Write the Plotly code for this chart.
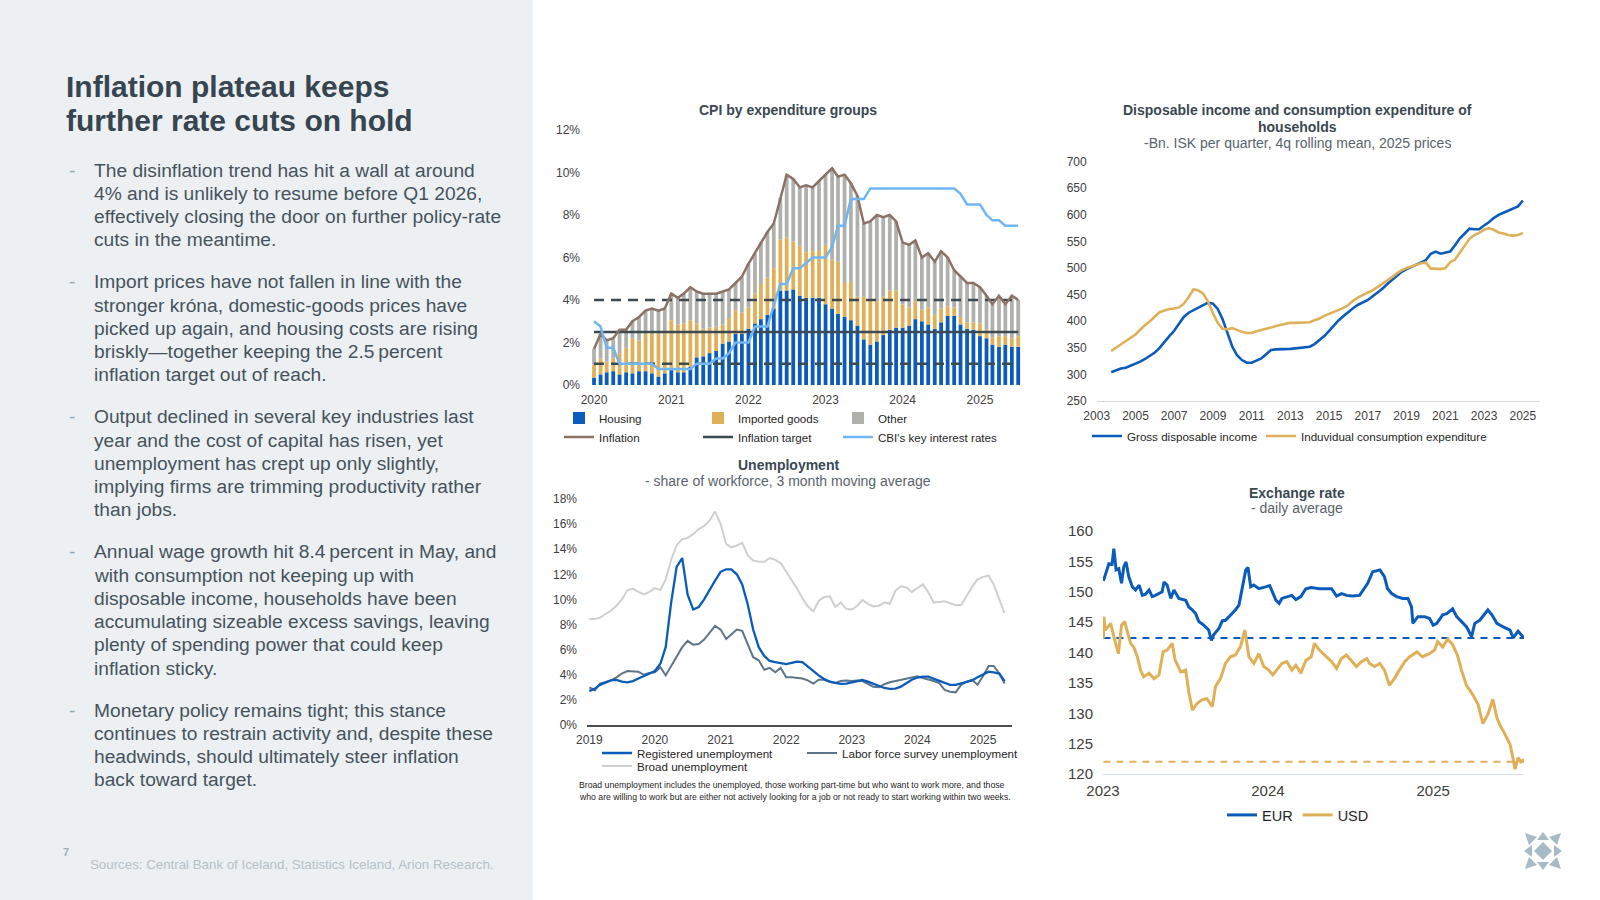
import plotly.graph_objects as go
import pandas as pd

W, H = 1600, 900
FONT = "Liberation Sans, Arial, Helvetica, sans-serif"


def fx(p):
    return p / W


def fy(p):
    return 1 - p / H


# ---------------- CPI by expenditure groups (monthly, % y/y) ----------------
cpi_months = pd.date_range("2020-01-01", periods=67, freq="MS")
cpi_housing = [0.35, 0.5, 0.6, 0.65, 0.5, 0.6, 0.55, 0.65, 0.65, 0.55, 0.4, 0.55,
               0.7, 0.6, 0.6, 0.85, 1.3, 1.35, 1.5, 1.6, 1.95, 2.05, 2.4, 2.4,
               2.65, 2.9, 3.1, 3.3, 3.6, 4.45, 4.45, 4.5, 4.2, 4.1, 4.1, 4.1,
               3.8, 3.6, 3.35, 3.2, 3.05, 2.8, 2.15, 1.9, 2.05, 2.35, 2.6, 2.7,
               2.7, 2.8, 3.1, 3.0, 2.85, 2.65, 2.95, 3.25, 3.25, 2.85, 2.65, 2.6,
               2.3, 2.2, 1.9, 1.8, 1.9, 1.8, 1.8]
cpi_imported = [0.6, 0.75, 0.5, 0.6, 1.0, 1.15, 1.65, 1.45, 1.75, 1.9, 2.0, 1.9,
                2.35, 2.25, 2.3, 2.2, 1.6, 1.3, 1.2, 1.15, 0.9, 1.1, 1.1, 1.0,
                1.0, 1.4, 1.65, 1.75, 1.9, 2.4, 2.5, 2.25, 2.35, 2.15, 2.2, 2.25,
                2.8, 2.3, 2.45, 1.6, 1.8, 1.35, 2.0, 2.1, 1.9, 1.8, 1.85, 1.75,
                1.1, 0.85, 0.85, 0.55, 0.8, 0.65, 0.65, 0.45, 0.4, 0.35, 0.3, 0.35,
                0.6, 0.4, 0.35, 0.5, 0.4, 0.4, 0.5]
cpi_other = [0.75, 1.15, 1.0, 0.95, 1.1, 0.85, 0.8, 1.1, 1.1, 1.15, 1.1, 1.15,
             1.25, 1.25, 1.4, 1.55, 1.5, 1.65, 1.6, 1.55, 1.55, 1.35, 1.3, 1.7,
             2.05, 1.9, 1.95, 2.15, 2.1, 1.95, 2.95, 2.95, 2.75, 3.15, 3.0, 3.25,
             3.3, 4.3, 4.0, 5.1, 4.65, 4.75, 3.45, 3.7, 4.05, 3.75, 3.55, 3.25,
             2.9, 2.95, 2.85, 2.45, 2.55, 2.5, 2.7, 2.3, 1.75, 1.9, 1.85, 1.85,
             1.7, 1.6, 1.55, 1.9, 1.5, 2.0, 1.7]
cpi_inflation = [1.7, 2.4, 2.1, 2.2, 2.6, 2.6, 3.0, 3.2, 3.5, 3.6, 3.5, 3.6,
                 4.3, 4.1, 4.3, 4.6, 4.4, 4.3, 4.3, 4.3, 4.4, 4.5, 4.8, 5.1,
                 5.7, 6.2, 6.7, 7.2, 7.6, 8.8, 9.9, 9.7, 9.3, 9.4, 9.3, 9.6,
                 9.9, 10.2, 9.8, 9.9, 9.5, 8.9, 7.6, 7.7, 8.0, 7.9, 8.0, 7.7,
                 6.7, 6.6, 6.8, 6.0, 6.2, 5.8, 6.3, 6.0, 5.4, 5.1, 4.8, 4.8,
                 4.6, 4.2, 3.8, 4.2, 3.8, 4.2, 4.0]
cbi_key_rate = [3.0, 2.75, 1.75, 1.75, 1.0, 1.0, 1.0, 1.0, 1.0, 1.0, 0.75, 0.75,
                0.75, 0.75, 0.75, 0.75, 1.0, 1.0, 1.0, 1.25, 1.25, 1.5, 2.0, 2.0,
                2.0, 2.75, 2.75, 2.75, 3.75, 4.75, 4.75, 5.5, 5.5, 5.75, 6.0, 6.0,
                6.0, 6.5, 7.5, 7.5, 8.75, 8.75, 8.75, 9.25, 9.25, 9.25, 9.25, 9.25,
                9.25, 9.25, 9.25, 9.25, 9.25, 9.25, 9.25, 9.25, 9.25, 9.0, 8.5, 8.5,
                8.5, 8.0, 7.75, 7.75, 7.5, 7.5, 7.5]
inflation_target = [2.5, 2.5]
tolerance_upper = [4.0, 4.0]
tolerance_lower = [1.0, 1.0]
cpi_ticks = [0, 2, 4, 6, 8, 10, 12]

# ---------------- Disposable income vs consumption (quarterly, bn ISK) ----------------
dis_quarters = pd.date_range("2003-10-01", periods=86, freq="QS")
gross_disposable_income = [
    304,
    308, 311, 312.5, 316,
    320, 324, 329, 335,
    341, 350, 362, 372,
    382, 394, 408, 416,
    421, 426, 430, 435,
    433, 423, 404, 376,
    352, 336, 327, 322,
    322, 326, 330, 338,
    346, 347, 347, 347.5,
    348, 349, 350, 351,
    352, 357, 364, 372,
    382, 392, 402, 410,
    418, 425, 431, 436,
    440, 447, 454, 461,
    470, 478, 486, 493,
    498, 502, 506, 510,
    515, 527, 531, 527,
    529, 531, 543, 556,
    565, 574, 573, 573,
    580, 586, 594, 600,
    604, 608, 611, 616,
    627]
consumption_expenditure = [
    344,
    350, 356, 362, 369,
    375, 384, 393, 400,
    409, 417, 420, 423,
    424, 426, 433, 445,
    460, 458, 452, 437,
    415, 397, 386, 385,
    387, 383, 380, 378,
    378, 381, 383, 386,
    388, 391, 393, 395,
    397, 397, 397, 398,
    398, 402, 405, 410,
    414, 418, 421, 425,
    431, 439, 445, 450,
    454, 458, 464, 470,
    476, 483, 490, 496,
    500, 503, 507, 509,
    510, 499, 499, 498,
    500, 511, 516, 529,
    542, 555, 562, 566,
    572, 575, 572, 567,
    565, 562, 561, 562,
    566]
dis_ticks = [250, 300, 350, 400, 450, 500, 550, 600, 650, 700]
dis_tick_years = [2003, 2005, 2007, 2009, 2011, 2013, 2015, 2017, 2019, 2021, 2023, 2025]

# ---------------- Unemployment (monthly, % of workforce) ----------------
une_months = pd.date_range("2019-01-01", periods=77, freq="MS")
registered_unemployment = [
    2.7, 2.9, 3.2, 3.4, 3.55, 3.6, 3.45, 3.4, 3.5, 3.7, 3.9, 4.1,
    4.3, 4.9, 6.2, 9.8, 12.6, 13.3, 10.4, 9.2, 9.4, 10.0, 10.8, 11.5,
    12.2, 12.4, 12.4, 12.0, 11.2, 9.6, 7.6, 6.2, 5.5, 5.1, 5.0, 4.9,
    4.85, 4.95, 5.05, 5.0, 4.65, 4.25, 3.95, 3.65, 3.45, 3.35, 3.27, 3.3,
    3.4, 3.5, 3.58, 3.45, 3.3, 3.1, 2.95, 2.88, 2.9, 3.05, 3.3, 3.6,
    3.78, 3.85, 3.85, 3.7, 3.55, 3.35, 3.2, 3.2, 3.3, 3.4, 3.55, 3.8,
    4.05, 4.25, 4.2, 4.1, 3.5]
lfs_unemployment = [
    3.0, 2.75, 3.3, 3.4, 3.55, 3.8, 4.1, 4.3, 4.3, 4.25, 4.0, 4.15,
    4.2, 4.6, 3.95, 4.7, 5.5, 6.2, 6.7, 6.4, 6.45, 6.8, 7.35, 7.9,
    7.6, 6.85, 7.2, 7.6, 7.5, 6.4, 5.4, 5.15, 4.4, 4.55, 4.2, 4.55,
    3.8, 3.8, 3.75, 3.7, 3.55, 3.3, 3.6, 3.6, 3.45, 3.35, 3.5, 3.55,
    3.5, 3.55, 3.5, 3.3, 3.05, 3.0, 3.25, 3.4, 3.5, 3.55, 3.65, 3.8,
    3.88, 3.75, 3.6, 3.5, 3.35, 2.8, 2.65, 2.6, 3.2, 3.45, 3.6, 3.2,
    3.9, 4.7, 4.7, 4.1, 3.3]
broad_unemployment = [
    8.45, 8.45, 8.55, 8.8, 9.1, 9.5, 10.0, 10.75, 10.85, 10.6, 10.4, 10.6,
    10.9, 10.75, 11.6, 13.2, 14.3, 14.8, 14.9, 15.2, 15.6, 15.85, 16.3, 17.0,
    16.0, 14.4, 14.15, 14.3, 14.5, 13.5, 13.1, 13.0, 13.0, 13.3, 13.15, 12.9,
    12.2, 11.6, 10.9, 10.1, 9.45, 9.05, 9.9, 10.2, 10.25, 9.4, 9.75, 9.25,
    9.2, 9.5, 9.95, 9.65, 9.45, 9.5, 9.75, 9.65, 10.7, 11.05, 10.95, 10.6,
    10.9, 11.2, 10.6, 9.75, 9.8, 9.85, 9.7, 9.55, 9.55, 10.3, 11.0, 11.6,
    11.8, 11.9, 11.2, 10.0, 8.9]
une_ticks = [0, 2, 4, 6, 8, 10, 12, 14, 16, 18]

# ---------------- Exchange rate (ISK per EUR / USD) ----------------
eur_dates = ["2023-01-02", "2023-01-09", "2023-01-14", "2023-01-21", "2023-01-25", "2023-01-30",
             "2023-02-05", "2023-02-11", "2023-02-16", "2023-02-21", "2023-02-27", "2023-03-07",
             "2023-03-14", "2023-03-22", "2023-03-29", "2023-04-05", "2023-04-13", "2023-04-20",
             "2023-04-27", "2023-05-12", "2023-05-16", "2023-05-23", "2023-05-31", "2023-06-07",
             "2023-06-18", "2023-07-03", "2023-07-10", "2023-07-18", "2023-07-25", "2023-08-01",
             "2023-08-12", "2023-08-23", "2023-08-29", "2023-09-03", "2023-09-15", "2023-09-22",
             "2023-09-29", "2023-10-07", "2023-10-14", "2023-10-21", "2023-10-29", "2023-11-05",
             "2023-11-13", "2023-11-18", "2023-11-24", "2023-12-01", "2023-12-12", "2023-12-27",
             "2024-01-05", "2024-01-19", "2024-01-26", "2024-02-01", "2024-02-12", "2024-02-23",
             "2024-03-03", "2024-03-14", "2024-03-25", "2024-04-06", "2024-04-24", "2024-05-10",
             "2024-05-21", "2024-06-01", "2024-06-12", "2024-06-23", "2024-07-06", "2024-07-22",
             "2024-08-02", "2024-08-09", "2024-08-20", "2024-09-05", "2024-09-15", "2024-09-22",
             "2024-10-01", "2024-10-12", "2024-10-25", "2024-11-06", "2024-11-14", "2024-11-17",
             "2024-11-28", "2024-12-13", "2024-12-24", "2025-01-01", "2025-01-09", "2025-01-22",
             "2025-01-31", "2025-02-13", "2025-02-22", "2025-03-05", "2025-03-16", "2025-03-27",
             "2025-04-03", "2025-04-14", "2025-05-02", "2025-05-11", "2025-05-22", "2025-06-05",
             "2025-06-20", "2025-06-27", "2025-07-08", "2025-07-21"]
eur_values = [151.8, 153.6, 154.6, 154.5, 157.1, 153.6,
              153.8, 151.4, 154.1, 154.9, 152.5, 150.8,
              150.3, 151.1, 149.4, 149.6, 150.3, 149.2,
              149.4, 150.0, 151.6, 151.1, 148.9, 150.3,
              148.9, 148.6, 147.5, 147.0, 146.4, 145.1,
              144.5, 143.7, 142.0, 142.9, 144.0, 145.2,
              145.3, 145.9, 146.4, 147.0, 147.8, 150.3,
              153.6, 154.0, 150.8, 151.1, 150.5, 150.8,
              151.0, 148.6, 148.1, 148.9, 149.2, 149.4,
              148.7, 149.2, 150.5, 150.7, 150.5, 150.5,
              150.5, 149.3, 149.7, 149.4, 149.3, 149.4,
              150.5, 151.4, 153.3, 153.6, 152.5, 150.5,
              149.7, 149.2, 148.9, 148.9, 147.5, 144.8,
              145.9, 145.9, 145.6, 144.5, 144.8, 146.2,
              146.4, 147.2, 145.9, 145.1, 144.2, 142.6,
              144.8, 145.3, 147.0, 146.2, 144.8, 144.2,
              143.7, 142.4, 143.5, 142.4]
usd_dates = ["2023-01-02", "2023-01-03", "2023-01-06", "2023-01-18", "2023-01-25", "2023-02-04",
             "2023-02-11", "2023-02-18", "2023-02-23", "2023-03-03", "2023-03-10", "2023-03-18",
             "2023-03-25", "2023-04-01", "2023-04-13", "2023-04-24", "2023-05-05", "2023-05-14",
             "2023-05-23", "2023-06-03", "2023-06-10", "2023-06-22", "2023-07-03", "2023-07-10",
             "2023-07-18", "2023-07-28", "2023-08-08", "2023-08-19", "2023-08-31", "2023-09-07",
             "2023-09-18", "2023-09-29", "2023-10-10", "2023-10-21", "2023-11-01", "2023-11-11",
             "2023-11-20", "2023-12-01", "2023-12-12", "2023-12-23", "2024-01-03", "2024-01-12",
             "2024-02-01", "2024-02-12", "2024-02-23", "2024-03-03", "2024-03-14", "2024-03-25",
             "2024-04-06", "2024-04-13", "2024-04-24", "2024-05-10", "2024-05-21", "2024-06-01",
             "2024-06-12", "2024-06-23", "2024-07-04", "2024-07-15", "2024-07-26", "2024-08-07",
             "2024-08-13", "2024-08-24", "2024-09-05", "2024-09-15", "2024-09-26", "2024-10-07",
             "2024-10-18", "2024-10-30", "2024-11-10", "2024-11-26", "2024-12-08", "2024-12-24",
             "2025-01-04", "2025-01-11", "2025-01-22", "2025-02-02", "2025-02-13", "2025-02-24",
             "2025-03-05", "2025-03-16", "2025-03-23", "2025-03-30", "2025-04-10", "2025-04-21",
             "2025-05-02", "2025-05-13", "2025-05-22", "2025-05-29", "2025-06-05", "2025-06-20",
             "2025-06-27", "2025-07-01", "2025-07-08", "2025-07-14", "2025-07-21"]
usd_values = [142.3, 145.9, 143.7, 144.8, 142.6, 139.8,
              144.5, 145.1, 143.7, 141.5, 140.9, 139.3,
              137.1, 136.0, 136.6, 135.7, 136.3, 140.1,
              140.4, 141.5, 138.7, 136.8, 137.1, 133.5,
              130.5, 131.6, 132.2, 132.4, 131.1, 134.4,
              135.7, 138.2, 139.3, 139.6, 140.9, 143.7,
              139.3, 138.2, 139.8, 137.7, 137.1, 136.3,
              138.2, 138.5, 137.1, 137.9, 136.6, 138.7,
              139.3, 141.5, 140.4, 139.3, 138.5, 137.4,
              139.0, 139.6, 138.7, 137.7, 138.5, 139.0,
              138.2, 137.7, 138.2, 137.1, 134.6, 135.7,
              137.1, 138.5, 139.3, 140.1, 139.3, 139.8,
              140.4, 141.8, 140.9, 142.2, 141.3, 139.5,
              137.0, 134.5, 133.8, 133.0, 131.5, 128.3,
              129.8, 132.3, 129.3, 128.0, 127.1, 124.9,
              122.5, 120.8, 122.7, 122.0, 122.4]
eur_reference = [142.4, 142.4]
usd_reference = [122.0, 122.0]
fx_ticks = [120, 125, 130, 135, 140, 145, 150, 155, 160]

# ---------------- colours ----------------
BLUE = "#0B5CBA"
GOLD = "#E0B058"
GREY_BAR = "#B0B0AC"
BROWN = "#8C7166"
DARK = "#3E4A52"
LIGHT_BLUE = "#6FB6F2"
SLATE = "#5D7489"
BROAD = "#CFCFCF"
TITLE_C = "#3A4852"
SUB_C = "#59636B"
TICK_C = "#404040"

fig = go.Figure()

# ---- CPI ----
fig.add_trace(go.Bar(x=cpi_months, y=cpi_housing, name="Housing", marker_color=BLUE,
                     marker_line_width=0, xaxis="x", yaxis="y", legend="legend"))
fig.add_trace(go.Bar(x=cpi_months, y=cpi_imported, name="Imported goods", marker_color=GOLD,
                     marker_line_width=0, xaxis="x", yaxis="y", legend="legend2"))
fig.add_trace(go.Bar(x=cpi_months, y=cpi_other, name="Other", marker_color=GREY_BAR,
                     marker_line_width=0, xaxis="x", yaxis="y", legend="legend3"))
band_x = [cpi_months[0], cpi_months[-1]]
fig.add_trace(go.Scatter(x=band_x, y=tolerance_upper, mode="lines", showlegend=False,
                         line=dict(color=DARK, width=2.5, dash="10px,7px"), xaxis="x", yaxis="y"))
fig.add_trace(go.Scatter(x=band_x, y=tolerance_lower, mode="lines", showlegend=False,
                         line=dict(color=DARK, width=2.5, dash="10px,7px"), xaxis="x", yaxis="y"))
fig.add_trace(go.Scatter(x=band_x, y=inflation_target, mode="lines", name="Inflation target",
                         line=dict(color=DARK, width=2.5), xaxis="x", yaxis="y", legend="legend5"))
fig.add_trace(go.Scatter(x=cpi_months, y=cpi_inflation, mode="lines", name="Inflation",
                         line=dict(color=BROWN, width=2.5), xaxis="x", yaxis="y", legend="legend4"))
fig.add_trace(go.Scatter(x=cpi_months, y=cbi_key_rate, mode="lines", name="CBI's key interest rates",
                         line=dict(color=LIGHT_BLUE, width=2.5), xaxis="x", yaxis="y", legend="legend6"))

# ---- Disposable income ----
fig.add_trace(go.Scatter(x=dis_quarters, y=gross_disposable_income, mode="lines",
                         name="Gross disposable income", line=dict(color=BLUE, width=2.6),
                         xaxis="x2", yaxis="y2", legend="legend7"))
fig.add_trace(go.Scatter(x=dis_quarters, y=consumption_expenditure, mode="lines",
                         name="Induvidual consumption expenditure", line=dict(color=GOLD, width=2.6),
                         xaxis="x2", yaxis="y2", legend="legend8"))

# ---- Unemployment ----
fig.add_trace(go.Scatter(x=une_months, y=broad_unemployment, mode="lines", name="Broad unemployment",
                         line=dict(color=BROAD, width=2), xaxis="x3", yaxis="y3", legend="legend11"))
fig.add_trace(go.Scatter(x=une_months, y=lfs_unemployment, mode="lines",
                         name="Labor force survey unemployment", line=dict(color=SLATE, width=2),
                         xaxis="x3", yaxis="y3", legend="legend10"))
fig.add_trace(go.Scatter(x=une_months, y=registered_unemployment, mode="lines",
                         name="Registered unemployment", line=dict(color=BLUE, width=2.3),
                         xaxis="x3", yaxis="y3", legend="legend9"))

# ---- Exchange rate ----
fx_ref_x = [eur_dates[0], eur_dates[-1]]
fig.add_trace(go.Scatter(x=fx_ref_x, y=eur_reference, mode="lines", showlegend=False,
                         line=dict(color=BLUE, width=2, dash="7px,6px"), xaxis="x4", yaxis="y4"))
fig.add_trace(go.Scatter(x=fx_ref_x, y=usd_reference, mode="lines", showlegend=False,
                         line=dict(color=GOLD, width=2, dash="7px,6px"), xaxis="x4", yaxis="y4"))
fig.add_trace(go.Scatter(x=eur_dates, y=eur_values, mode="lines", name="EUR",
                         line=dict(color=BLUE, width=3), xaxis="x4", yaxis="y4",
                         legend="legend12", legendrank=1))
fig.add_trace(go.Scatter(x=usd_dates, y=usd_values, mode="lines", name="USD",
                         line=dict(color=GOLD, width=3), xaxis="x4", yaxis="y4",
                         legend="legend12", legendrank=2))


def xaxis(dom, rng, years, anchor, size=12, line=None, standoff=5):
    d = dict(domain=[fx(dom[0]), fx(dom[1])], type="date", range=rng,
             tickvals=[f"{y}-01-01" for y in years], ticktext=[str(y) for y in years],
             showgrid=False, zeroline=False, ticks="", anchor=anchor, automargin=False,
             tickfont=dict(size=size, color=TICK_C, family=FONT), ticklabelstandoff=standoff,
             fixedrange=True)
    if line:
        d.update(showline=True, linecolor=line[0], linewidth=line[1])
    else:
        d.update(showline=False)
    return d


def yaxis(dom, rng, tickvals, anchor, suffix="", size=12, standoff=9):
    return dict(domain=[fy(dom[1]), fy(dom[0])], range=rng, tickvals=tickvals,
                ticktext=[f"{v}{suffix}" for v in tickvals],
                showgrid=False, zeroline=False, showline=False, ticks="", automargin=False,
                tickfont=dict(size=size, color=TICK_C, family=FONT), ticklabelstandoff=standoff,
                anchor=anchor, fixedrange=True)


def legend_cfg(x, y, size=11.6, xanchor="left"):
    return dict(x=fx(x), y=fy(y), xref="paper", yref="paper", xanchor=xanchor, yanchor="middle",
                orientation="h", bgcolor="rgba(0,0,0,0)", borderwidth=0, itemwidth=30,
                font=dict(size=size, color="#262626", family=FONT), traceorder="normal",
                itemclick=False, itemdoubleclick=False)


# text of the left panel
title_lines = ["Inflation plateau keeps", "further rate cuts on hold"]
paragraphs = [
    ["The disinflation trend has hit a wall at around",
     "4% and is unlikely to resume before Q1 2026,",
     "effectively closing the door on further policy-rate",
     "cuts in the meantime."],
    ["Import prices have not fallen in line with the",
     "stronger króna, domestic-goods prices have",
     "picked up again, and housing costs are rising",
     "briskly\u2014together keeping the 2.5\u202fpercent",
     "inflation target out of reach."],
    ["Output declined in several key industries last",
     "year and the cost of capital has risen, yet",
     "unemployment has crept up only slightly,",
     "implying firms are trimming productivity rather",
     "than jobs."],
    ["Annual wage growth hit 8.4\u202fpercent in May, and",
     "with consumption not keeping up with",
     "disposable income, households have been",
     "accumulating sizeable excess savings, leaving",
     "plenty of spending power that could keep",
     "inflation sticky."],
    ["Monetary policy remains tight; this stance",
     "continues to restrain activity and, despite these",
     "headwinds, should ultimately steer inflation",
     "back toward target."],
]


def ann(x, y, text, size, color, xanchor="left", yanchor="middle", bold=False):
    if bold:
        text = f"<b>{text}</b>"
    return dict(x=fx(x), y=fy(y), xref="paper", yref="paper", text=text, showarrow=False,
                xanchor=xanchor, yanchor=yanchor, align="left",
                font=dict(size=size, color=color, family=FONT))


annotations = []
annotations.append(ann(63.5, 86.5, title_lines[0], 30, "#36454F", bold=True))
annotations.append(ann(63.5, 120.5, title_lines[1], 30, "#36454F", bold=True))
LINE = 23.3
GAP = 41.8
y0 = 170
for para in paragraphs:
    annotations.append(ann(67, y0, "-", 19, "#8FA9BB"))
    for i, line in enumerate(para):
        annotations.append(ann(92, y0 + i * LINE, line, 19.2, "#46535D"))
    y0 += (len(para) - 1) * LINE + GAP

annotations.append(ann(61, 852, "<b>7</b>", 11, "#A3AFB7"))
annotations.append(ann(88, 864, "Sources: Central Bank of Iceland, Statistics Iceland, Arion Research.",
                       13.3, "#B5C1C9"))

# chart titles
annotations.append(ann(788, 110, "CPI by expenditure groups", 14, TITLE_C, xanchor="center", bold=True))
annotations.append(ann(1297, 110, "Disposable income and consumption expenditure of", 14, TITLE_C,
                       xanchor="center", bold=True))
annotations.append(ann(1297, 127, "households", 14, TITLE_C, xanchor="center", bold=True))
annotations.append(ann(1297, 142.5, "-Bn. ISK per quarter, 4q rolling mean, 2025 prices", 14, SUB_C,
                       xanchor="center"))
annotations.append(ann(788, 465, "Unemployment", 14, TITLE_C, xanchor="center", bold=True))
annotations.append(ann(788, 481, "- share of workforce, 3 month moving average", 14, SUB_C,
                       xanchor="center"))
annotations.append(ann(1297, 493, "Exchange rate", 14, TITLE_C, xanchor="center", bold=True))
annotations.append(ann(1297, 508.5, "- daily average", 14, SUB_C, xanchor="center"))
annotations.append(ann(577, 785, "Broad unemployment includes the unemployed, those working part-time but who want to work more, and those",
                       8.7, "#262626"))
annotations.append(ann(577, 796.5, "who are willing to work but are either not actively looking for a job or not ready to start working within two weeks.",
                       8.7, "#262626"))

# background panel + logo
shapes = [dict(type="rect", xref="paper", yref="paper", x0=0, x1=fx(533), y0=0, y1=1,
               fillcolor="#ECF0F2", line=dict(width=0), layer="below")]


def poly(points, color="#A7BBC6"):
    path = "M " + " L ".join(f"{fx(a):.5f},{fy(b):.5f}" for a, b in points) + " Z"
    return dict(type="path", xref="paper", yref="paper", path=path, fillcolor=color,
                line=dict(width=0), layer="above")


cx, cy = 1543, 851
shapes += [
    poly([(cx, cy - 9), (cx + 9, cy), (cx, cy + 9), (cx - 9, cy)]),
    poly([(cx - 18, cy - 18), (cx - 6, cy - 14), (cx - 14, cy - 6)]),
    poly([(cx + 18, cy - 18), (cx + 6, cy - 14), (cx + 14, cy - 6)]),
    poly([(cx - 18, cy + 18), (cx - 6, cy + 14), (cx - 14, cy + 6)]),
    poly([(cx + 18, cy + 18), (cx + 6, cy + 14), (cx + 14, cy + 6)]),
    poly([(cx - 6, cy - 11), (cx + 6, cy - 11), (cx, cy - 19)]),
    poly([(cx - 6, cy + 11), (cx + 6, cy + 11), (cx, cy + 19)]),
    poly([(cx - 11, cy - 6), (cx - 11, cy + 6), (cx - 19, cy)]),
    poly([(cx + 11, cy - 6), (cx + 11, cy + 6), (cx + 19, cy)]),
]

fig.update_layout(
    width=W, height=H, margin=dict(l=0, r=0, t=0, b=0, pad=0, autoexpand=False),
    paper_bgcolor="white", plot_bgcolor="rgba(0,0,0,0)",
    font=dict(family=FONT, color="#262626"),
    barmode="relative", bargap=0.36,
    hovermode=False,
    xaxis=xaxis((590, 1022), ["2019-12-13", "2025-07-19"], [2020, 2021, 2022, 2023, 2024, 2025], "y",
                standoff=6),
    yaxis=yaxis((130, 385), [0, 12], cpi_ticks, "x", suffix="%"),
    xaxis2=xaxis((1096.7, 1540), ["2003-01-01", "2025-11-20"], dis_tick_years, "y2",
                 line=("#D9D9D9", 1), standoff=4),
    yaxis2=yaxis((161.7, 401), [250, 700], dis_ticks, "x2"),
    xaxis3=xaxis((587, 1012), ["2018-12-19", "2025-06-11"], [2019, 2020, 2021, 2022, 2023, 2024, 2025],
                 "y3", line=("#4D4D4D", 1.5), standoff=3),
    yaxis3=yaxis((499, 725), [0, 18], une_ticks, "x3", suffix="%"),
    xaxis4=xaxis((1103, 1524), ["2023-01-01", "2025-07-21"], [2023, 2024, 2025], "y4",
                 size=15, line=("#D6DEE6", 1.2), standoff=3),
    yaxis4=yaxis((531, 774), [120, 160], fx_ticks, "x4", size=15),
    legend=legend_cfg(559, 418),
    legend2=legend_cfg(698, 418),
    legend3=legend_cfg(838, 418),
    legend4=legend_cfg(559, 437),
    legend5=legend_cfg(698, 437),
    legend6=legend_cfg(838, 437),
    legend7=legend_cfg(1087, 436),
    legend8=legend_cfg(1261, 436),
    legend9=legend_cfg(597, 753),
    legend10=legend_cfg(802, 753),
    legend11=legend_cfg(597, 766),
    legend12=legend_cfg(1298, 815, size=14.5, xanchor="center"),
    annotations=annotations,
    shapes=shapes,
)

fig.write_html("out.html", config={"displayModeBar": False},
               post_script="document.body.style.margin='0';document.body.style.padding='0';")
